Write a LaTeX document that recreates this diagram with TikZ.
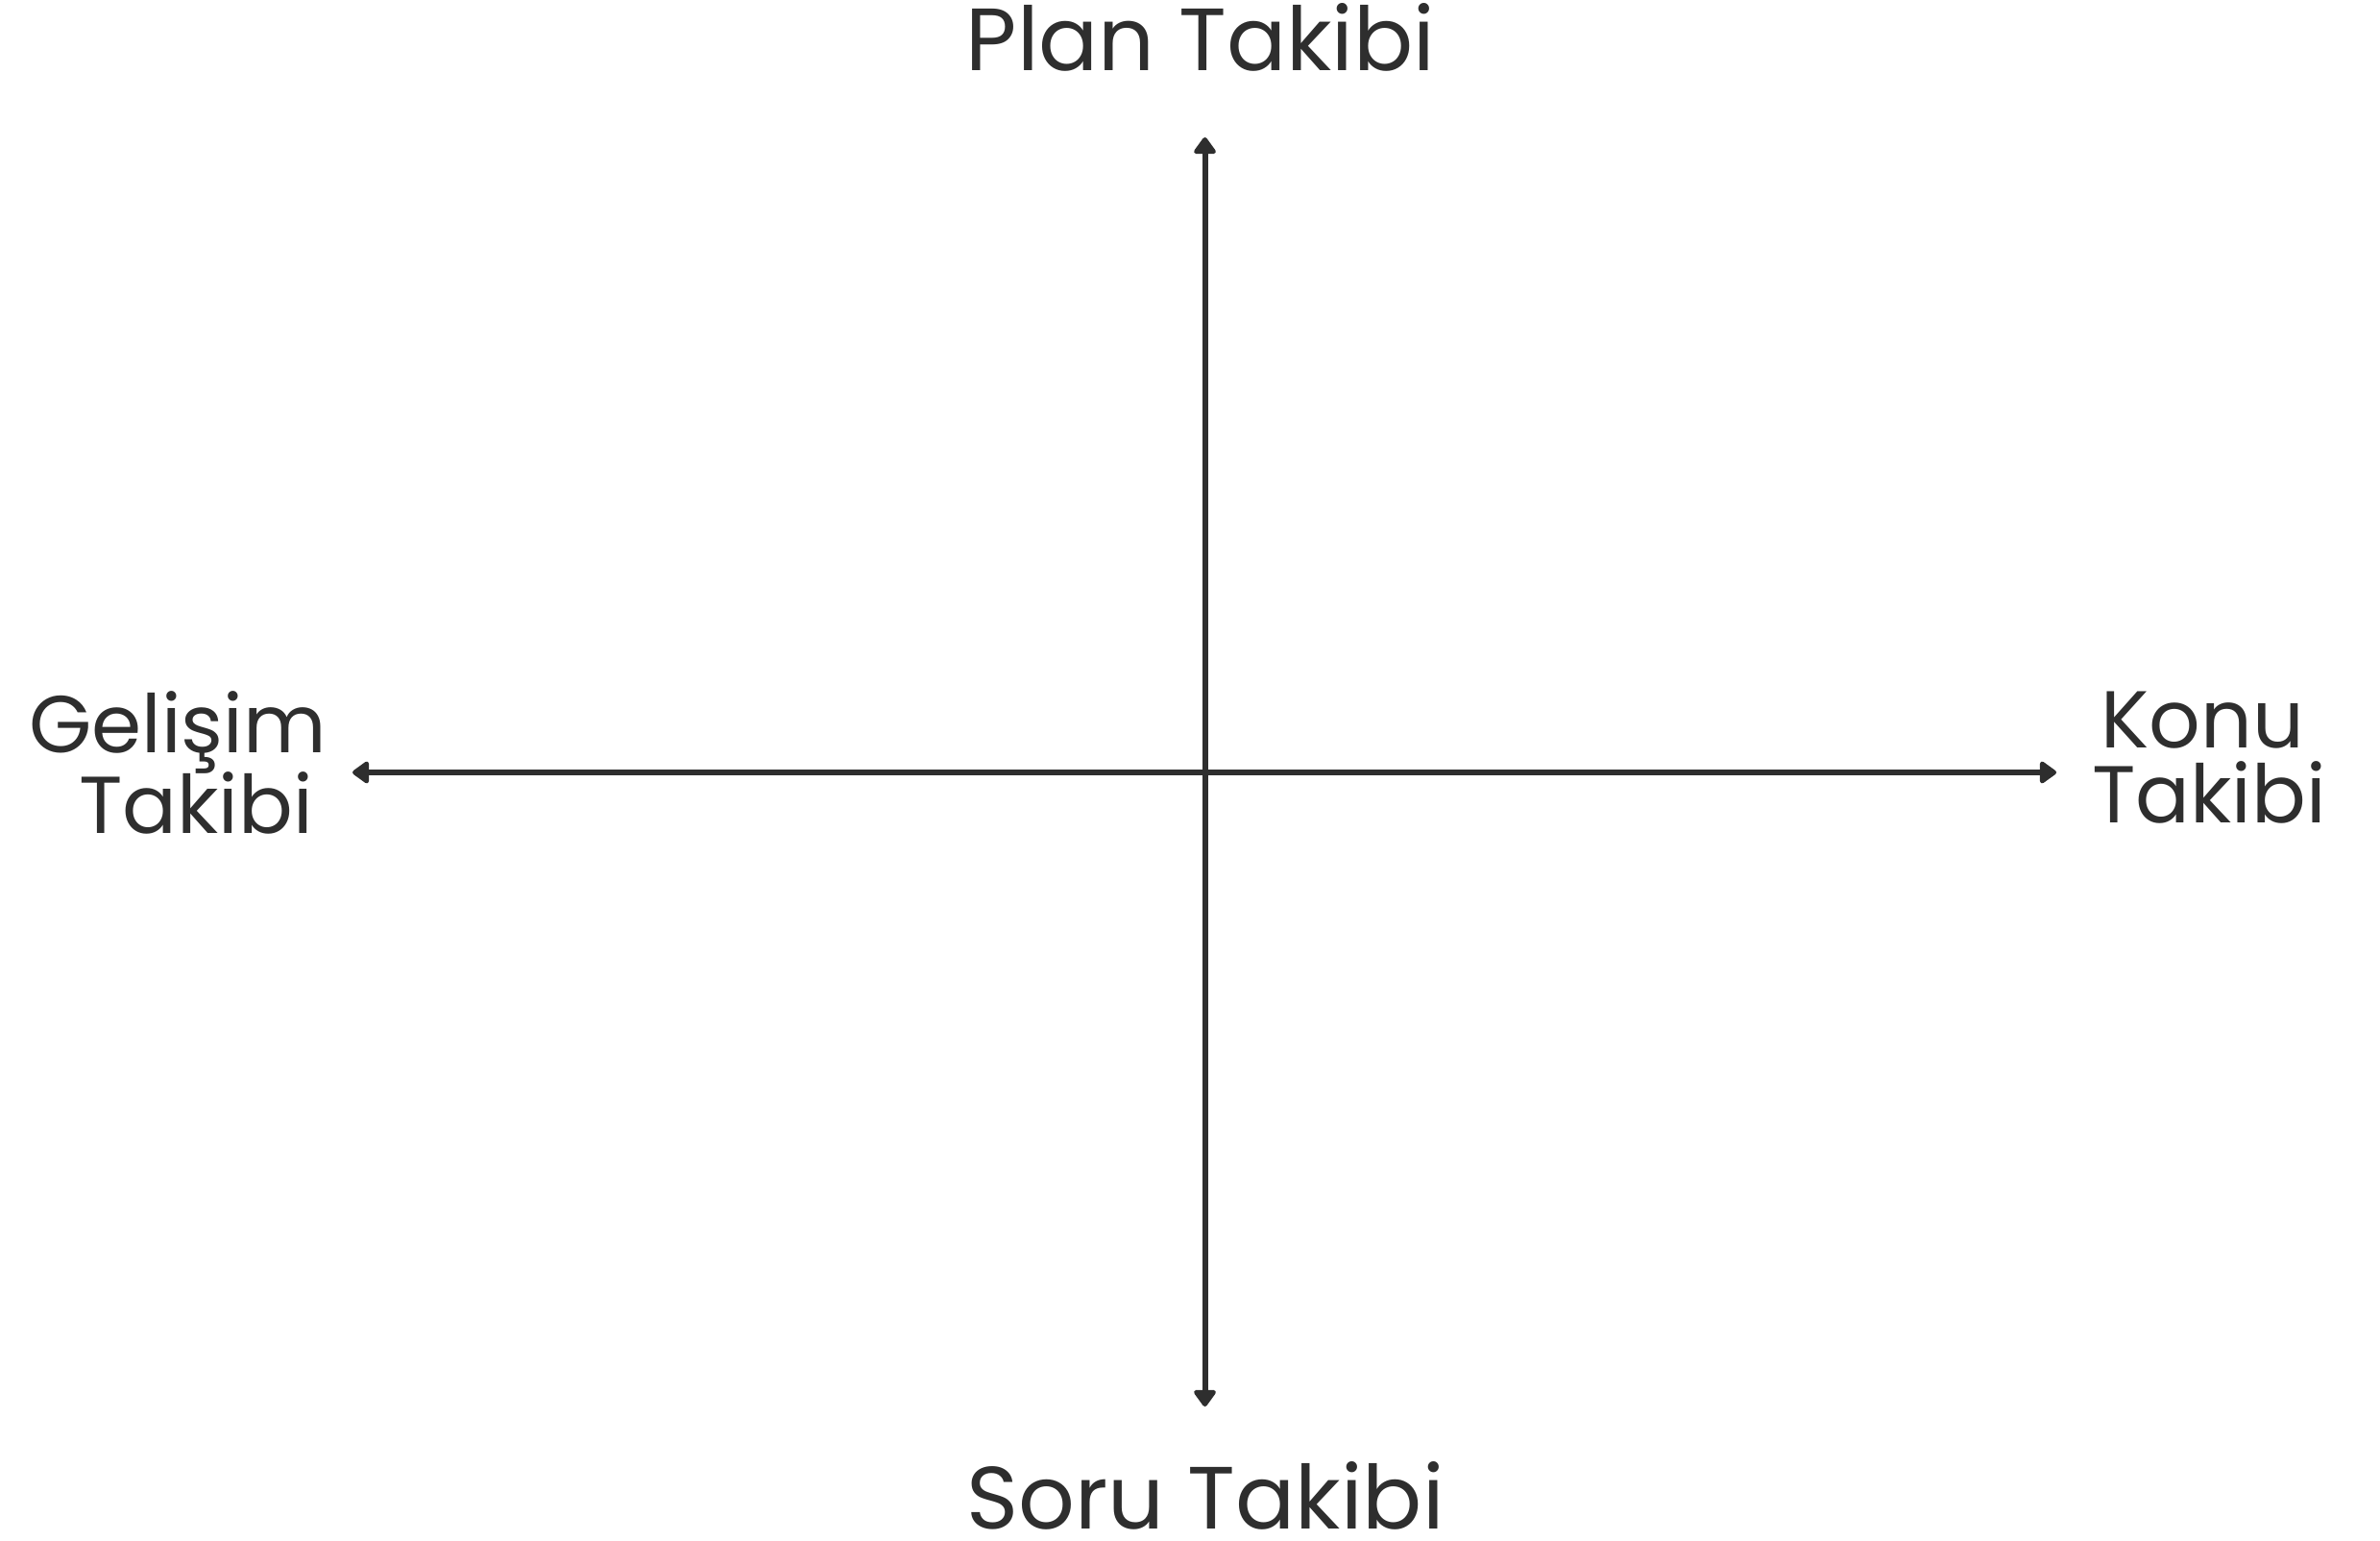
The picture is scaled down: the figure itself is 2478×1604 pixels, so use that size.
\documentclass[tikz,border=0pt]{standalone}
\usepackage{fontspec}
\setmainfont{Poppins}
\usetikzlibrary{arrows.meta}
\definecolor{ink}{HTML}{2E2E2E}
\tikzset{
  axis/.style={draw=ink, line width=3pt, {Triangle[round,width=13pt,length=9.5pt]}-{Triangle[round,width=13pt,length=9.5pt]}},
  biglabel/.style={text=ink, anchor=base, inner sep=0pt, font=\fontsize{46}{54}\selectfont},
  sidelabel/.style={text=ink, anchor=base, inner sep=0pt, font=\fontsize{42}{48}\selectfont}
}
\begin{document}
\begin{tikzpicture}[x=0.5pt,y=-0.5pt]
\useasboundingbox[fill=white] (0,0) rectangle (2478,1604);
\coordinate (top) at (1254.5,143);
\coordinate (bottom) at (1254.5,1464);
\coordinate (left) at (367,804);
\coordinate (right) at (2141,804);
\draw[axis] (top) -- (bottom);
\draw[axis] (left) -- (right);
\node[biglabel] (plan) at (1250,74) {Plan Takibi};
\node[biglabel] (soru) at (1255,1591) {Soru Takibi};
\node[sidelabel] (gel1) at (185,783) {Gelişim};
\node[sidelabel] (gel2) at (204,867) {Takibi};
\node[sidelabel] (kon1) at (2293,778) {Konu};
\node[sidelabel] (kon2) at (2300,856) {Takibi};
\end{tikzpicture}
\end{document}
